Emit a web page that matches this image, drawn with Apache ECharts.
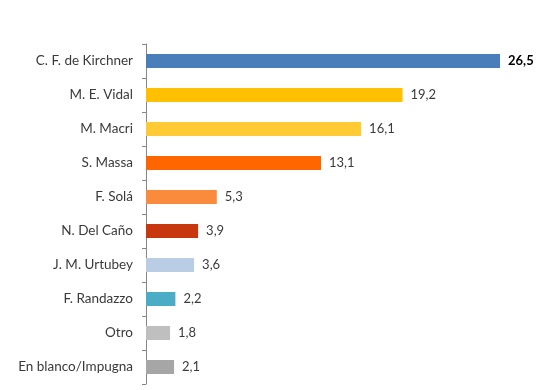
<!DOCTYPE html>
<html>
<head>
<meta charset="utf-8">
<script src="https://cdn.jsdelivr.net/npm/echarts@6/dist/echarts.min.js"></script>
<style>html,body{margin:0;padding:0;background:#fff}#c{width:560px;height:390px}</style>
</head>
<body>
<div id="c"></div>
<script>
const categories = ["C. F. de Kirchner","M. E. Vidal","M. Macri","S. Massa","F. Solá","N. Del Caño","J. M. Urtubey","F. Randazzo","Otro","En blanco/Impugna"];
const values = [26.5,19.2,16.1,13.1,5.3,3.9,3.6,2.2,1.8,2.1];
const colors = ["#4a7ebb","#ffc000","#ffca33","#ff6600","#fa8a3c","#c8380e","#b9cde5","#4bacc6","#bfbfbf","#a6a6a6"];

const chart = echarts.init(document.getElementById('c'), null, {renderer:'canvas'});
chart.setOption({
  animation:false,
  grid:{left:146, top:44, width:400.8, height:340},
  xAxis:{type:'value', min:0, max:30, show:false},
  yAxis:{type:'category', data:categories, inverse:true,
    axisLine:{show:true, lineStyle:{color:'#868686', width:1}},
    axisTick:{show:true, length:4, lineStyle:{color:'#868686'}},
    axisLabel:{margin:13, color:'#3a3a3a', fontFamily:'Lato', fontSize:13.5}
  },
  series:[{
    type:'bar', barWidth:14,
    data: values.map((v,i)=>({value:v, itemStyle:{color:colors[i]},
      label: i===0 ? {fontWeight:'bold', color:'#000'} : {}})),
    label:{show:true, position:'right', distance:8, color:'#3a3a3a', fontFamily:'Lato', fontSize:13,
      formatter:p=>p.value.toFixed(1).replace('.',',')}
  }]
});
</script>
</body>
</html>
